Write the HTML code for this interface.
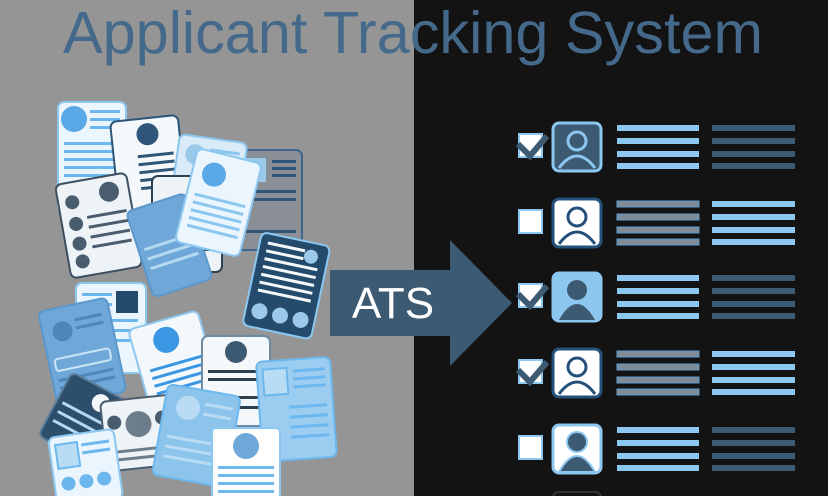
<!DOCTYPE html>
<html><head><meta charset="utf-8"><style>
html,body{margin:0;padding:0;width:828px;height:496px;overflow:hidden;background:#131313}
svg{display:block}
</style></head><body>
<svg width="828" height="496" viewBox="0 0 828 496" xmlns="http://www.w3.org/2000/svg">
<rect x="0" y="0" width="414" height="496" fill="#959595"/>
<rect x="414" y="0" width="414" height="496" fill="#131313"/>

<!-- resume pile -->
<g stroke-width="2">
<g transform="translate(236,150) rotate(0)"><rect width="66" height="100" rx="6" fill="#8a8f96" stroke="#3d6688"/><rect x="8" y="8" width="22" height="24" fill="#9bc9ea"/><g fill="#2d5678"><rect x="36" y="10" width="24" height="3"/><rect x="36" y="17" width="24" height="3"/><rect x="36" y="24" width="24" height="3"/><rect x="8" y="40" width="52" height="3"/><rect x="8" y="48" width="52" height="3"/><rect x="8" y="80" width="52" height="3"/></g></g>
<g transform="translate(58,102)"><rect width="68" height="110" rx="6" fill="#eaf5fd" stroke="#8cc7f0"/><circle cx="16" cy="17" r="13" fill="#5aa9e6"/><g fill="#6cb8ee"><rect x="32" y="8" width="30" height="3"/><rect x="32" y="16" width="30" height="3"/><rect x="32" y="24" width="30" height="3"/><rect x="6" y="40" width="56" height="3"/><rect x="6" y="48" width="56" height="3"/><rect x="6" y="56" width="56" height="3"/><rect x="6" y="64" width="56" height="3"/><rect x="6" y="72" width="56" height="3"/></g></g>
<g transform="translate(110,122) rotate(-6)"><rect width="68" height="100" rx="6" fill="#f4f8fb" stroke="#2d5678"/><circle cx="36" cy="16" r="11" fill="#2d5678"/><g fill="#2d5678"><rect x="24" y="36" width="36" height="3"/><rect x="24" y="44" width="36" height="3"/><rect x="24" y="52" width="36" height="3"/><rect x="24" y="60" width="36" height="3"/><rect x="24" y="68" width="36" height="3"/></g></g>
<g transform="translate(180,134) rotate(8)"><rect width="68" height="100" rx="6" fill="#d9ebf8" stroke="#8cc7f0"/><circle cx="18" cy="18" r="10" fill="#9bc9ea"/><g fill="#8cc7f0"><rect x="32" y="10" width="30" height="3"/><rect x="32" y="20" width="30" height="3"/><rect x="6" y="40" width="56" height="3"/><rect x="6" y="50" width="56" height="3"/></g></g>
<g transform="translate(55,185) rotate(-10)"><rect width="72" height="95" rx="6" fill="#eef3f7" stroke="#3d4f60"/><circle cx="52" cy="16" r="10" fill="#4a5d6f"/><g fill="#4a5d6f"><circle cx="14" cy="20" r="7"/><circle cx="14" cy="42" r="7"/><circle cx="14" cy="62" r="7"/><circle cx="14" cy="80" r="7"/><rect x="26" y="36" width="40" height="3"/><rect x="26" y="46" width="40" height="3"/><rect x="26" y="56" width="40" height="3"/><rect x="26" y="66" width="40" height="3"/></g></g>
<g transform="translate(152,176)"><rect width="70" height="96" rx="6" fill="#eef3f7" stroke="#2d4050"/><rect x="38" y="6" width="26" height="28" fill="#4a5d6f"/><g fill="#2d4050"><rect x="6" y="40" width="58" height="3"/><rect x="6" y="48" width="58" height="3"/><rect x="6" y="56" width="58" height="3"/><rect x="6" y="64" width="58" height="3"/><rect x="6" y="72" width="58" height="3"/></g></g>
<g transform="translate(126,212) rotate(-18)"><rect width="62" height="90" rx="6" fill="#6fa8d8" stroke="#5a97cb"/><g fill="#b5d9f3"><rect x="6" y="40" width="50" height="3"/><rect x="6" y="50" width="50" height="3"/><rect x="6" y="60" width="50" height="3"/></g></g>
<g transform="translate(198,148) rotate(14)"><rect width="66" height="96" rx="6" fill="#eaf5fd" stroke="#8cc7f0"/><circle cx="22" cy="22" r="12" fill="#5aa9e6"/><g fill="#8cc7f0"><rect x="8" y="44" width="52" height="3"/><rect x="8" y="52" width="52" height="3"/><rect x="8" y="60" width="52" height="3"/><rect x="8" y="68" width="52" height="3"/><rect x="8" y="76" width="52" height="3"/></g></g>
<g transform="translate(262,232) rotate(12)"><rect width="70" height="95" rx="6" fill="#244b6b" stroke="#8cc7f0"/><g fill="#f4f8fb"><rect x="8" y="8" width="38" height="3"/><rect x="8" y="16" width="38" height="3"/><rect x="8" y="24" width="54" height="3"/><rect x="8" y="32" width="54" height="3"/><rect x="8" y="40" width="54" height="3"/><rect x="8" y="48" width="54" height="3"/><rect x="8" y="56" width="54" height="3"/></g><circle cx="53" cy="14" r="7" fill="#9bc9ea"/><g fill="#9bc9ea"><circle cx="14" cy="78" r="8"/><circle cx="35" cy="78" r="8"/><circle cx="56" cy="78" r="8"/></g></g>
<g transform="translate(76,283)"><rect width="70" height="90" rx="6" fill="#eaf5fd" stroke="#8cc7f0"/><rect x="40" y="8" width="22" height="22" fill="#244b6b"/><g fill="#6cb8ee"><rect x="6" y="10" width="30" height="3"/><rect x="6" y="20" width="30" height="3"/><rect x="6" y="36" width="56" height="3"/><rect x="6" y="46" width="56" height="3"/><rect x="6" y="56" width="56" height="3"/></g></g>
<g transform="translate(38,312) rotate(-12)"><rect width="70" height="96" rx="6" fill="#6fa8d8" stroke="#5a97cb"/><circle cx="20" cy="24" r="10" fill="#4d86b8"/><g fill="#4d86b8"><rect x="34" y="14" width="28" height="3"/><rect x="34" y="22" width="28" height="3"/><rect x="6" y="50" width="56" height="12" rx="3" fill="none" stroke="#c9e4f6"/><rect x="6" y="70" width="56" height="3"/><rect x="6" y="78" width="56" height="3"/></g></g>
<g transform="translate(128,330) rotate(-16)"><rect width="72" height="90" rx="6" fill="#f4f8fb" stroke="#8cc7f0"/><circle cx="34" cy="20" r="13" fill="#3a97e3"/><g fill="#3a97e3"><rect x="10" y="44" width="54" height="3"/><rect x="10" y="52" width="54" height="3"/><rect x="10" y="60" width="54" height="3"/><rect x="10" y="68" width="54" height="3"/></g></g>
<g transform="translate(202,336)"><rect width="68" height="90" rx="6" fill="#f4f8fb" stroke="#6d8aa3"/><circle cx="34" cy="16" r="11" fill="#3d5a73"/><g fill="#2d4050"><rect x="6" y="34" width="56" height="3"/><rect x="6" y="42" width="56" height="3"/><rect x="6" y="60" width="56" height="3"/><rect x="6" y="70" width="56" height="3"/></g></g>
<g transform="translate(72,372) rotate(28)"><rect width="62" height="72" rx="6" fill="#2d4f6c" stroke="#5a7f9c"/><g fill="#b5d9f3"><rect x="6" y="30" width="50" height="3"/><rect x="6" y="40" width="50" height="3"/><rect x="6" y="50" width="50" height="3"/></g><circle cx="40" cy="14" r="9" fill="#f4f8fb"/></g>
<g transform="translate(100,402) rotate(-6)"><rect width="72" height="70" rx="6" fill="#eef3f7" stroke="#4a5d6f"/><circle cx="36" cy="26" r="13" fill="#6d7d8b"/><circle cx="12" cy="22" r="7" fill="#4a5d6f"/><circle cx="60" cy="22" r="7" fill="#4a5d6f"/><g fill="#6d7d8b"><rect x="6" y="50" width="60" height="3"/><rect x="6" y="58" width="60" height="3"/></g></g>
<g transform="translate(256,362) rotate(-4)"><rect width="74" height="100" rx="6" fill="#9bcdf0" stroke="#6cb8ee"/><rect x="6" y="8" width="24" height="26" fill="#b9dcf4" stroke="#6cb8ee"/><g fill="#6cb8ee"><rect x="36" y="10" width="32" height="3"/><rect x="36" y="18" width="32" height="3"/><rect x="36" y="26" width="32" height="3"/><rect x="30" y="46" width="38" height="3"/><rect x="30" y="56" width="38" height="3"/><rect x="30" y="66" width="38" height="3"/><rect x="30" y="76" width="38" height="3"/></g></g>
<g transform="translate(168,384) rotate(10)"><rect width="74" height="92" rx="6" fill="#8cc4ec" stroke="#6cb8ee"/><circle cx="24" cy="20" r="12" fill="#b9dcf4"/><g fill="#b9dcf4"><rect x="40" y="12" width="28" height="3"/><rect x="40" y="22" width="28" height="3"/><rect x="8" y="50" width="58" height="3"/><rect x="8" y="60" width="58" height="3"/><rect x="8" y="70" width="58" height="3"/></g></g>
<g transform="translate(48,438) rotate(-8)"><rect width="66" height="70" rx="6" fill="#eaf5fd" stroke="#8cc7f0"/><rect x="6" y="8" width="22" height="24" fill="#b9dcf4" stroke="#6cb8ee"/><g fill="#6cb8ee"><rect x="32" y="10" width="28" height="3"/><rect x="32" y="18" width="28" height="3"/><circle cx="14" cy="48" r="7"/><circle cx="32" cy="48" r="7"/><circle cx="50" cy="48" r="7"/></g></g>
<g transform="translate(212,428)"><rect width="68" height="70" rx="4" fill="#ffffff" stroke="#8cc7f0"/><circle cx="34" cy="18" r="13" fill="#6fa8d8"/><g fill="#6cb8ee"><rect x="6" y="38" width="56" height="3"/><rect x="6" y="46" width="56" height="3"/><rect x="6" y="54" width="56" height="3"/><rect x="6" y="62" width="56" height="3"/></g></g>
</g>

<!-- arrow -->
<polygon points="330,270 450,270 450,240 512,303 450,366 450,336 330,336" fill="#3d5a73"/>
<text x="393" y="318" font-family="Liberation Sans, sans-serif" font-size="44" fill="#ffffff" text-anchor="middle">ATS</text>

<!-- title -->
<text x="63" y="53" font-family="Liberation Sans, sans-serif" font-size="59" fill="#45698a" textLength="700" lengthAdjust="spacingAndGlyphs">Applicant Tracking System</text>

<!-- rows -->
<g transform="translate(0,122)">
<rect x="519" y="12" width="23" height="23" fill="#fff" stroke="#8cc7f0" stroke-width="2"/>
<path d="M518,22 L530,34 L547,14" fill="none" stroke="#3d5a73" stroke-width="6"/>
<rect x="553" y="1" width="48" height="48" rx="6" fill="#3d5a73" stroke="#8cc7f0" stroke-width="3"/>
<circle cx="577" cy="19" r="9" fill="none" stroke="#8cc7f0" stroke-width="3"/><path d="M559,46 Q577,22 595,46" fill="none" stroke="#8cc7f0" stroke-width="3"/>
<g fill="#8cc7f0"><rect x="617" y="3" width="82" height="6"/><rect x="617" y="16" width="82" height="6"/><rect x="617" y="29" width="82" height="6"/><rect x="617" y="41" width="82" height="6"/></g>
<g fill="#3d5a73"><rect x="712" y="3" width="83" height="6"/><rect x="712" y="16" width="83" height="6"/><rect x="712" y="29" width="83" height="6"/><rect x="712" y="41" width="83" height="6"/></g>
</g>
<g transform="translate(0,198)">
<rect x="519" y="12" width="23" height="23" fill="#fff" stroke="#8cc7f0" stroke-width="2"/>
<rect x="553" y="1" width="48" height="48" rx="6" fill="#fff" stroke="#24507a" stroke-width="3"/>
<circle cx="577" cy="19" r="9" fill="none" stroke="#24507a" stroke-width="3"/><path d="M559,46 Q577,22 595,46" fill="none" stroke="#24507a" stroke-width="3"/>
<g fill="#7f8b96" stroke="#5b9bd0" stroke-width="1"><rect x="617" y="3" width="82" height="6"/><rect x="617" y="16" width="82" height="6"/><rect x="617" y="29" width="82" height="6"/><rect x="617" y="41" width="82" height="6"/></g>
<g fill="#8cc7f0"><rect x="712" y="3" width="83" height="6"/><rect x="712" y="16" width="83" height="6"/><rect x="712" y="29" width="83" height="6"/><rect x="712" y="41" width="83" height="6"/></g>
</g>
<g transform="translate(0,272)">
<rect x="519" y="12" width="23" height="23" fill="#fff" stroke="#8cc7f0" stroke-width="2"/>
<path d="M518,22 L530,34 L547,14" fill="none" stroke="#3d5a73" stroke-width="6"/>
<rect x="553" y="1" width="48" height="48" rx="6" fill="#8cc7f0" stroke="#8cc7f0" stroke-width="3"/>
<circle cx="577" cy="18" r="10" fill="#3d5a73"/><path d="M559,48 Q577,16 595,48 Z" fill="#3d5a73"/>
<g fill="#8cc7f0"><rect x="617" y="3" width="82" height="6"/><rect x="617" y="16" width="82" height="6"/><rect x="617" y="29" width="82" height="6"/><rect x="617" y="41" width="82" height="6"/></g>
<g fill="#3d5a73"><rect x="712" y="3" width="83" height="6"/><rect x="712" y="16" width="83" height="6"/><rect x="712" y="29" width="83" height="6"/><rect x="712" y="41" width="83" height="6"/></g>
</g>
<g transform="translate(0,348)">
<rect x="519" y="12" width="23" height="23" fill="#fff" stroke="#8cc7f0" stroke-width="2"/>
<path d="M518,22 L530,34 L547,14" fill="none" stroke="#3d5a73" stroke-width="6"/>
<rect x="553" y="1" width="48" height="48" rx="6" fill="#fff" stroke="#24507a" stroke-width="3"/>
<circle cx="577" cy="19" r="9" fill="none" stroke="#24507a" stroke-width="3"/><path d="M559,46 Q577,22 595,46" fill="none" stroke="#24507a" stroke-width="3"/>
<g fill="#7f8b96" stroke="#5b9bd0" stroke-width="1"><rect x="617" y="3" width="82" height="6"/><rect x="617" y="16" width="82" height="6"/><rect x="617" y="29" width="82" height="6"/><rect x="617" y="41" width="82" height="6"/></g>
<g fill="#8cc7f0"><rect x="712" y="3" width="83" height="6"/><rect x="712" y="16" width="83" height="6"/><rect x="712" y="29" width="83" height="6"/><rect x="712" y="41" width="83" height="6"/></g>
</g>
<g transform="translate(0,424)">
<rect x="519" y="12" width="23" height="23" fill="#fff" stroke="#8cc7f0" stroke-width="2"/>
<rect x="553" y="1" width="48" height="48" rx="6" fill="#fff" stroke="#8cc7f0" stroke-width="3"/>
<circle cx="577" cy="18" r="10" fill="#3d5a73" stroke="#8cc7f0" stroke-width="2"/><path d="M559,48 Q577,16 595,48 Z" fill="#3d5a73" stroke="#8cc7f0" stroke-width="2"/>
<g fill="#8cc7f0"><rect x="617" y="3" width="82" height="6"/><rect x="617" y="16" width="82" height="6"/><rect x="617" y="29" width="82" height="6"/><rect x="617" y="41" width="82" height="6"/></g>
<g fill="#3d5a73"><rect x="712" y="3" width="83" height="6"/><rect x="712" y="16" width="83" height="6"/><rect x="712" y="29" width="83" height="6"/><rect x="712" y="41" width="83" height="6"/></g>
</g>
<rect x="553" y="492" width="48" height="10" rx="6" fill="#131313" stroke="#333" stroke-width="2"/>
</svg>
</body></html>
